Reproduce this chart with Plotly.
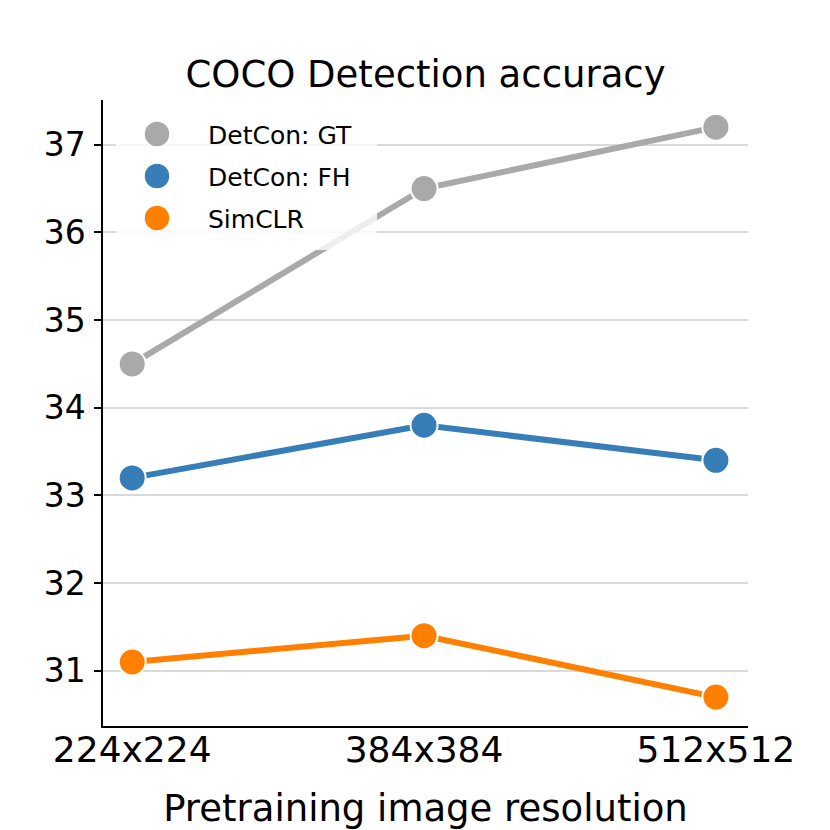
import plotly.graph_objects as go

categories = ["224x224", "384x384", "512x512"]
series_names = ["DetCon: GT", "DetCon: FH", "SimCLR"]
gt_values = [34.5, 36.5, 37.2]
fh_values = [33.2, 33.8, 33.4]
simclr_values = [31.1, 31.4, 30.7]
y_ticks = [31, 32, 33, 34, 35, 36, 37]
colors = ["#a9a9a9", "#377eb8", "#ff7f00"]

# geometry (page pixels, page has an 8px body margin)
OFF = 8
W = H = 822
PL, PR, PT, PB = 103, 748, 100, 726  # plot area in page pixels
PW, PH = PR - PL, PB - PT

def px(x):
    return (x - PL) / PW

def py(y):
    return (PB - y) / PH

fig = go.Figure()
xs = list(range(len(categories)))
for name, vals, col in zip(series_names, [gt_values, fh_values, simclr_values], colors):
    fig.add_trace(go.Scatter(
        x=xs, y=vals, mode="lines+markers", name=name, showlegend=False,
        line=dict(color=col, width=6),
        marker=dict(size=27, color=col, line=dict(color="white", width=2)),
    ))

font = "DejaVu Sans, sans-serif"

# custom legend (matplotlib-style: large markers, semi-transparent frame)
shapes = [dict(type="rect", xref="paper", yref="paper", layer="above",
               x0=px(116), x1=px(377), y0=py(250), y1=py(109),
               fillcolor="rgba(255,255,255,0.8)", line=dict(width=0))]
annotations = []
r = 13
for i, (name, col) in enumerate(zip(series_names, colors)):
    cy = 134 + 42 * i
    shapes.append(dict(type="circle", xref="paper", yref="paper", layer="above",
                       x0=px(157 - r), x1=px(157 + r), y0=py(cy + r), y1=py(cy - r),
                       fillcolor=col, line=dict(color="white", width=1.5)))
    annotations.append(dict(text=name, xref="paper", yref="paper", x=px(206), y=py(cy + 1),
                            xanchor="left", yanchor="middle", showarrow=False,
                            font=dict(size=25, family=font, color="black")))

fig.update_layout(
    width=W, height=H,
    margin=dict(l=PL - OFF, r=W - (PR - OFF), t=PT - OFF, b=H - (PB - OFF)),
    paper_bgcolor="white", plot_bgcolor="white",
    font=dict(family=font, color="black"),
    title=dict(text="COCO Detection accuracy", x=((PL + PR) / 2 - OFF) / W, xanchor="center",
               y=1 - (74 - OFF) / H, yanchor="middle", font=dict(size=37, family=font)),
    showlegend=False,
    shapes=shapes, annotations=annotations,
    xaxis=dict(
        range=[-0.1, 2.11], tickmode="array", tickvals=xs, ticktext=categories,
        showgrid=False, zeroline=False, showline=True, linecolor="black", linewidth=1.5,
        ticks="", tickfont=dict(size=36, family=font), ticklabelstandoff=-9, automargin=False,
        title=dict(text="Pretraining image resolution", font=dict(size=37, family=font), standoff=29),
    ),
    yaxis=dict(
        range=[30.37, 37.51], tickmode="array", tickvals=y_ticks,
        showgrid=True, gridcolor="#d9d9d9", gridwidth=1.5, zeroline=False,
        showline=True, linecolor="black", linewidth=1.5, automargin=False,
        ticks="outside", ticklen=7, tickwidth=1.5, tickcolor="black",
        tickfont=dict(size=33, family=font), ticklabelstandoff=2,
    ),
)
fig.write_html("out.html")
